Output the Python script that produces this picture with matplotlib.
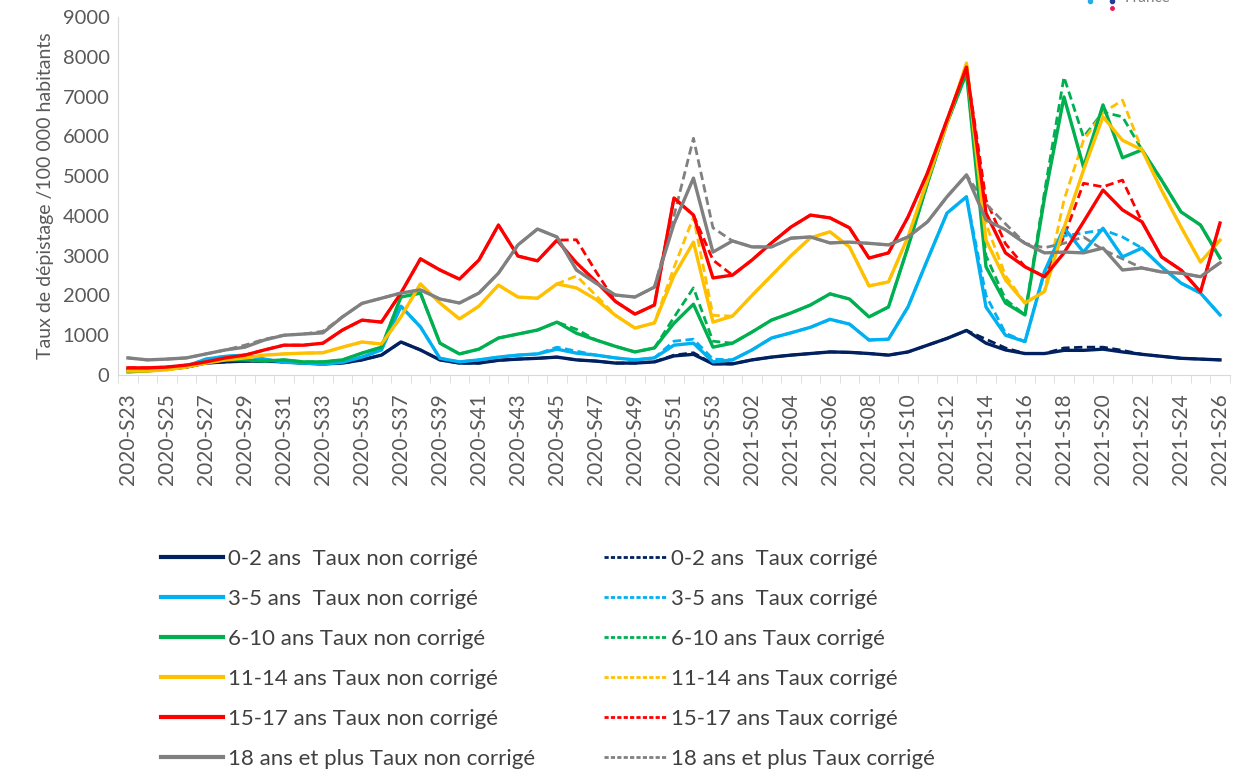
import matplotlib
matplotlib.use("Agg")
import matplotlib.pyplot as plt
from matplotlib.lines import Line2D

plt.rcParams['font.family'] = ['Lato', 'DejaVu Sans']

# semaines 2020-S23 -> 2021-S26
weeks = [f"2020-S{w}" for w in range(23, 54)] + [f"2021-S{w:02d}" for w in range(1, 27)]

# taux non corriges
nc_0_2 = [120, 130, 150, 200, 300, 330, 350, 350, 330, 300, 280, 300, 380, 500, 830, 630, 380, 300, 300, 370,
          400, 420, 450, 380, 350, 300, 300, 330, 480, 520, 280, 280, 380, 450, 500, 540, 580, 570, 540, 500,
          580, 750, 920, 1120, 800, 630, 540, 540, 620, 620, 650, 580, 520, 470, 420, 400, 380]
nc_3_5 = [150, 150, 170, 220, 400, 470, 500, 400, 320, 300, 270, 320, 450, 630, 1730, 1210, 420, 330, 380, 450,
          500, 530, 650, 550, 500, 430, 380, 430, 750, 800, 330, 380, 630, 930, 1060, 1200, 1400, 1280, 880, 900,
          1710, 2900, 4070, 4480, 1710, 1000, 840, 2600, 3700, 3090, 3690, 2970, 3190, 2720, 2310, 2060, 1510]
nc_6_10 = [80, 100, 150, 200, 330, 380, 380, 350, 380, 330, 330, 380, 550, 700, 1960, 2060, 800, 530, 650, 930,
           1030, 1130, 1330, 1050, 880, 720, 580, 680, 1300, 1780, 700, 800, 1080, 1380, 1560, 1760, 2040, 1910, 1460, 1710,
           3220, 4820, 6330, 7590, 2720, 1810, 1510, 4450, 6990, 5230, 6790, 5460, 5660, 4900, 4100, 3770, 2940]
nc_11_14 = [100, 100, 130, 200, 300, 380, 430, 500, 530, 550, 560, 700, 830, 780, 1460, 2290, 1810, 1410, 1730, 2260,
            1960, 1930, 2290, 2190, 1900, 1500, 1180, 1310, 2500, 3340, 1330, 1480, 2000, 2500, 3000, 3450, 3600, 3220, 2240, 2340,
            3470, 4900, 6330, 7840, 3390, 2390, 1810, 2100, 3700, 5150, 6490, 5900, 5660, 4650, 3720, 2840, 3390]
nc_15_17 = [180, 180, 200, 250, 330, 430, 500, 630, 750, 750, 800, 1130, 1380, 1330, 2060, 2920, 2640, 2410, 2890, 3770,
            2990, 2870, 3390, 2820, 2350, 1850, 1530, 1760, 4450, 4020, 2440, 2510, 2890, 3320, 3720, 4020, 3950, 3700, 2940, 3070,
            3970, 5080, 6410, 7740, 4070, 3070, 2720, 2470, 3070, 3850, 4650, 4150, 3850, 2970, 2640, 2090, 3820]
nc_18p = [430, 380, 400, 430, 530, 630, 700, 880, 1000, 1030, 1060, 1460, 1800, 1930, 2060, 2140, 1910, 1810, 2060, 2560,
          3270, 3670, 3470, 2640, 2310, 2010, 1960, 2210, 3800, 4950, 3090, 3370, 3220, 3220, 3440, 3470, 3320, 3340, 3310, 3270,
          3470, 3850, 4480, 5030, 3900, 3650, 3310, 3070, 3090, 3070, 3190, 2640, 2690, 2590, 2560, 2470, 2820]

# taux corriges
c_0_2 = [120, 130, 150, 200, 300, 330, 350, 350, 330, 300, 280, 300, 380, 500, 830, 630, 380, 300, 300, 370,
         400, 420, 450, 380, 350, 300, 300, 330, 500, 560, 280, 280, 380, 450, 500, 540, 580, 570, 540, 500,
         580, 750, 920, 1120, 900, 680, 540, 540, 680, 700, 700, 620, 520, 470, 420, 400, 380]
c_3_5 = [150, 150, 170, 220, 400, 470, 500, 400, 320, 300, 270, 320, 450, 630, 1730, 1210, 420, 330, 380, 450,
         500, 530, 700, 600, 500, 430, 380, 430, 850, 900, 400, 380, 630, 930, 1060, 1200, 1400, 1280, 880, 900,
         1710, 2900, 4070, 4480, 2000, 1050, 840, 2600, 3500, 3570, 3650, 3470, 3190, 2720, 2310, 2060, 1510]
c_6_10 = [80, 100, 150, 200, 330, 380, 380, 350, 380, 330, 330, 380, 550, 700, 1960, 2060, 800, 530, 650, 930,
          1030, 1130, 1330, 1150, 880, 720, 580, 680, 1450, 2190, 850, 800, 1080, 1380, 1560, 1760, 2040, 1910, 1460, 1710,
          3220, 4820, 6330, 7590, 3000, 1900, 1510, 4600, 7490, 5980, 6610, 6490, 5660, 4900, 4100, 3770, 2940]
c_11_14 = [100, 100, 130, 200, 300, 380, 430, 500, 530, 550, 560, 700, 830, 780, 1460, 2290, 1810, 1410, 1730, 2260,
           1960, 1930, 2290, 2490, 2000, 1500, 1180, 1310, 2700, 3970, 1500, 1480, 2000, 2500, 3000, 3450, 3600, 3220, 2240, 2340,
           3470, 4900, 6330, 7840, 3800, 2500, 1810, 2100, 4400, 5900, 6590, 6910, 5660, 4650, 3720, 2840, 3390]
c_15_17 = [180, 180, 200, 250, 330, 430, 500, 630, 750, 750, 800, 1130, 1380, 1330, 2060, 2920, 2640, 2410, 2890, 3770,
           2990, 2870, 3390, 3400, 2600, 1850, 1530, 1760, 4450, 4020, 2890, 2510, 2890, 3320, 3720, 4020, 3950, 3700, 2940, 3070,
           3970, 5080, 6410, 7740, 4400, 3300, 2720, 2470, 3470, 4820, 4730, 4900, 3850, 2970, 2640, 2090, 3820]
c_18p = [430, 380, 400, 430, 530, 630, 750, 900, 1000, 1030, 1100, 1460, 1800, 1930, 2060, 2140, 1910, 1810, 2060, 2560,
         3270, 3670, 3470, 2640, 2310, 2010, 1960, 2210, 4000, 5950, 3700, 3370, 3220, 3220, 3440, 3470, 3320, 3340, 3310, 3270,
         3470, 3850, 4480, 5030, 4300, 3800, 3310, 3200, 3310, 3470, 3150, 2920, 2690, 2590, 2560, 2470, 2820]

groups = ["0-2 ans  ", "3-5 ans  ", "6-10 ans ", "11-14 ans ", "15-17 ans ", "18 ans et plus "]
colors = ["#002060", "#00B0F0", "#00B050", "#FFC000", "#FF0000", "#808080"]
non_corr = [nc_0_2, nc_3_5, nc_6_10, nc_11_14, nc_15_17, nc_18p]
corr = [c_0_2, c_3_5, c_6_10, c_11_14, c_15_17, c_18p]

fig = plt.figure(figsize=(12.39, 7.71), dpi=100)
ax = fig.add_axes([0.0952, 0.5136, 0.8975, 0.4644])

x = list(range(len(weeks)))
for vals, col in zip(corr, colors):
    ax.plot(x, vals, color=col, lw=2.0, ls=(0, (3, 1.6)), zorder=2)
for vals, col in zip(non_corr, colors):
    ax.plot(x, vals, color=col, lw=2.4, zorder=3)

ax.set_xlim(-0.51, len(weeks) - 0.49)
ax.set_ylim(0, 9000)
ax.set_yticks(range(0, 9001, 1000))
ax.set_xticks(x[::2])
ax.set_xticklabels(weeks[::2], rotation=90)
ax.set_xticks([i - 0.5 for i in range(len(weeks) + 1)], minor=True)
ax.tick_params(axis='x', which='major', length=0, pad=13, labelsize=15, labelcolor="#595959")
ax.tick_params(axis='x', which='minor', length=6, color="#D9D9D9")
ax.tick_params(axis='y', length=0, pad=6, labelsize=14.5, labelcolor="#595959")
for s in ["top", "right"]:
    ax.spines[s].set_visible(False)
for s in ["left", "bottom"]:
    ax.spines[s].set_color("#D9D9D9")
ax.set_ylabel("Taux de dépistage /100 000 habitants", fontsize=14, color="#595959", labelpad=6)

handles = []
labels = []
for g, col in zip(groups, colors):
    handles.append(Line2D([], [], color=col, lw=3))
    labels.append(g + "Taux non corrigé")
for g, col in zip(groups, colors):
    handles.append(Line2D([], [], color=col, lw=2, ls=(0, (1.5, 0.8))))
    labels.append(g + "Taux corrigé")
fig.legend(handles, labels, ncol=2, loc="upper left", bbox_to_anchor=(0.1134, 0.3138),
           frameon=False, fontsize=16, labelcolor="#404040", handlelength=2.8,
           handletextpad=0.22, columnspacing=3.1, labelspacing=0.895)

# fragment coupe en haut a droite
fig.text(1125 / 1239, 1.003, "France", fontsize=11, color="#7f7f7f", va="center")
fig.add_artist(Line2D([1090 / 1239], [1 - 1 / 771], marker="o", ms=3, color="#29ABE2"))
fig.add_artist(Line2D([1112 / 1239], [1 - 1 / 771], marker="o", ms=3, color="#1F3F99"))
fig.add_artist(Line2D([1112 / 1239], [1 - 8 / 771], marker="o", ms=2.5, color="#E8185A"))

fig.savefig("out.png", dpi=100)
